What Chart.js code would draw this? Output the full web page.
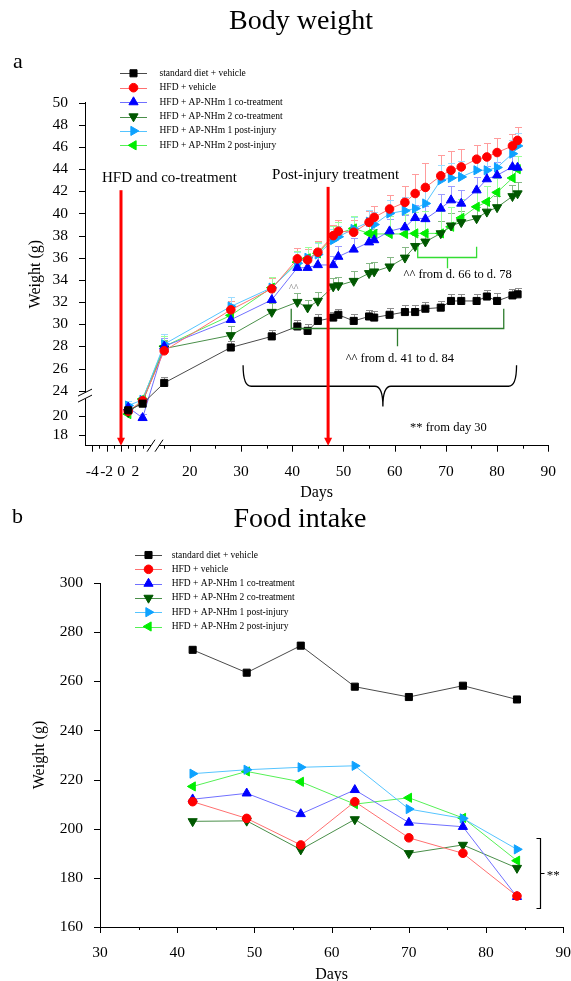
<!DOCTYPE html>
<html>
<head>
<meta charset="utf-8">
<title>Body weight and food intake</title>
<script src="https://cdn.jsdelivr.net/npm/chart.js@4.4.1/dist/chart.umd.min.js"></script>
<style>
  html, body { margin: 0; padding: 0; background: #fff; }
  #wrap { position: relative; width: 571px; height: 981px; overflow: hidden; }
  canvas { position: absolute; left: 0; }
  #weight { top: 0; }
  #food { top: 490px; }
</style>
</head>
<body>
<div id="wrap">
  <canvas id="weight" width="571" height="510"></canvas>
  <canvas id="food" width="571" height="491"></canvas>
</div>
<script>
// group names, same order in both panels
var groups = ['standard diet + vehicle', 'HFD + vehicle', 'HFD + AP-NHm 1 co-treatment',
  'HFD + AP-NHm 2 co-treatment', 'HFD + AP-NHm 1 post-injury', 'HFD + AP-NHm 2 post-injury'];

// panel a: body weight (g), mean and SEM per day
var weightDays = [1, 3, 15, 28, 36, 41, 43, 45, 48, 49, 52, 55, 56, 59, 62, 64, 66, 69, 71, 73, 76, 78, 80, 83, 84];
var wStd   = [20.6, 21.3, 24.7, 27.9, 28.9, 29.8, 29.4, 30.3, 30.6, 30.85, 30.3, 30.7, 30.6, 30.85, 31.1, 31.1, 31.4, 31.5, 32.1, 32.1, 32.1, 32.5, 32.1, 32.6, 32.7];
var wHfd   = [20.5, 21.6, 27.6, 31.3, 33.2, 35.9, 35.8, 36.5, 38.0, 38.4, 38.3, 39.2, 39.65, 40.4, 41.0, 41.8, 42.35, 43.4, 43.9, 44.2, 44.9, 45.1, 45.5, 46.1, 46.6];
var wCo1   = [20.9, 19.8, 28.0, 30.4, 32.2, 35.1, 35.1, 35.35, 35.35, 36.1, 36.75, 37.4, 37.6, 38.4, 38.75, 39.6, 39.5, 40.45, 41.2, 40.9, 42.1, 43.1, 43.45, 44.2, 44.15];
var wCo2   = [20.4, 21.5, 27.8, 29.0, 31.1, 32.0, 31.5, 32.1, 33.4, 33.5, 33.9, 34.6, 34.75, 35.2, 36.0, 37.05, 37.45, 38.2, 38.9, 39.2, 39.55, 40.15, 40.55, 41.55, 41.8];
var wPost1 = [21.1, 21.7, 28.2, 31.6, 33.3, 35.5, 36.0, 36.3, 37.6, 37.9, 38.6, 39.25, 39.0, 40.0, 40.25, 40.45, 40.9, 43.0, 43.2, 43.3, 43.9, 43.9, 44.15, 45.4, 46.1];
var wPost2 = [20.2, 21.8, 28.0, 30.8, 33.3, 35.6, 35.95, 36.4, 37.9, 38.2, 38.65, 38.2, 38.15, 38.15, 38.15, 38.2, 38.2, 38.2, 38.8, 39.6, 40.6, 41.05, 41.9, 43.2, 44.0];

var eStd   = [0.4, 0.4, 0.5, 0.6, 0.6, 0.6, 0.6, 0.6, 0.5, 0.5, 0.6, 0.6, 0.6, 0.6, 0.6, 0.6, 0.6, 0.6, 0.6, 0.6, 0.6, 0.6, 0.7, 0.6, 0.6];
var eHfd   = [0.5, 0.5, 0.9, 0.8, 1.0, 1.0, 1.0, 1.0, 1.0, 1.0, 1.1, 1.0, 1.0, 1.3, 1.5, 1.8, 2.2, 1.9, 1.7, 1.6, 1.3, 1.3, 1.3, 1.1, 1.2];
var eCo1   = [0.4, 0.4, 0.8, 0.9, 0.9, 0.9, 0.9, 0.9, 0.8, 1.0, 1.0, 1.0, 1.0, 1.1, 1.1, 1.2, 1.2, 1.3, 1.3, 1.2, 1.2, 1.2, 1.2, 1.0, 1.0];
var eCo2   = [0.4, 0.4, 0.8, 0.8, 0.8, 0.8, 0.7, 0.8, 0.8, 0.8, 0.9, 0.9, 0.9, 0.9, 1.0, 1.0, 1.0, 1.1, 1.1, 1.0, 1.0, 1.0, 1.0, 1.0, 1.0];
var ePost1 = [0.5, 0.5, 0.9, 0.9, 1.0, 1.0, 1.0, 1.0, 1.0, 1.0, 1.1, 1.1, 1.1, 1.2, 1.2, 1.3, 1.3, 1.4, 1.4, 1.4, 1.3, 1.3, 1.3, 1.2, 1.2];
var ePost2 = [0.5, 0.5, 0.9, 0.9, 1.0, 1.0, 1.0, 1.0, 1.0, 1.0, 1.1, 1.4, 1.5, 1.6, 1.8, 1.9, 2.0, 2.0, 1.8, 1.7, 1.5, 1.4, 1.3, 1.2, 1.2];

var weightTicksX = [-4, -2, 0, 2, 20, 30, 40, 50, 60, 70, 80, 90];
var weightMinorX = [-3, -1, 1, 3, 15, 25, 35, 45, 55, 65, 75, 85];
var weightTicksY = [18, 20, 24, 26, 28, 30, 32, 34, 36, 38, 40, 42, 44, 46, 48, 50];

// panel b: food intake (g), one value per week
var foodDays = [42, 49, 56, 63, 70, 77, 84];
var fStd   = [272.8, 263.5, 274.5, 257.8, 253.6, 258.2, 252.6];
var fHfd   = [211.0, 204.2, 193.4, 211.0, 196.3, 190.0, 172.6];
var fCo1   = [212.0, 214.4, 206.0, 215.8, 202.5, 200.8, 172.3];
var fCo2   = [203.0, 203.2, 191.5, 203.8, 190.0, 193.4, 184.0];
var fPost1 = [222.4, 224.0, 225.0, 225.6, 208.0, 204.2, 191.6];
var fPost2 = [217.2, 223.3, 219.1, 210.0, 212.6, 204.4, 187.0];

var foodTicksX = [30, 40, 50, 60, 70, 80, 90];
var foodMinorX = [35, 45, 55, 65, 75, 85];
var foodTicksY = [160, 180, 200, 220, 240, 260, 280, 300];

var FONT = "'Liberation Serif', 'Times New Roman', serif";
Chart.defaults.font.family = FONT;
Chart.defaults.color = '#000';

var seriesStyle = [
  { point: 'rect',     rot: 0,   r: 5,   fill: '#000000', line: '#4a4a4a', err: '#8c8c8c' },
  { point: 'circle',   rot: 0,   r: 4.3, fill: '#ff0000', line: '#ff7070', err: '#ff9c9c' },
  { point: 'triangle', rot: 0,   r: 5.3, fill: '#0000ff', line: '#7070ff', err: '#9c9cff' },
  { point: 'triangle', rot: 180, r: 5.3, fill: '#005800', line: '#4a8f4a', err: '#86b886' },
  { point: 'triangle', rot: 90,  r: 5.3, fill: '#0ea2ff', line: '#55c4ff', err: '#9ddcff' },
  { point: 'triangle', rot: 270, r: 5.3, fill: '#00ee00', line: '#55f055', err: '#9cff9c' }
];

// linear scale with piecewise mapping, used for the broken axes
class BrokenScale extends Chart.LinearScale {
  buildTicks() {
    var list = [];
    (this.options.majorTicks || []).forEach(function (v) { list.push({ value: v }); });
    (this.options.minorTicks || []).forEach(function (v) { list.push({ value: v, minor: true }); });
    list.sort(function (a, b) { return a.value - b.value; });
    return list;
  }
  toDecimal(v) {
    var k = this.options.knots;
    for (var i = 1; i < k.length; i++) {
      if (v <= k[i][0] || i === k.length - 1) {
        return k[i - 1][1] + (v - k[i - 1][0]) * (k[i][1] - k[i - 1][1]) / (k[i][0] - k[i - 1][0]);
      }
    }
  }
  fromDecimal(d) {
    var k = this.options.knots;
    for (var i = 1; i < k.length; i++) {
      if (d <= k[i][1] || i === k.length - 1) {
        return k[i - 1][0] + (d - k[i - 1][1]) * (k[i][0] - k[i - 1][0]) / (k[i][1] - k[i - 1][1]);
      }
    }
  }
  getPixelForValue(v) {
    if (v === null || v === undefined || isNaN(v)) return NaN;
    return this.getPixelForDecimal(this.toDecimal(v));
  }
  getValueForPixel(p) {
    return this.fromDecimal(this.getDecimalForPixel(p));
  }
}
BrokenScale.id = 'broken';
BrokenScale.defaults = {};
Chart.register(BrokenScale);

function points(days, values) {
  return days.map(function (d, i) { return { x: d, y: values[i] }; });
}

function makeSets(days, values, errors) {
  return values.map(function (vals, k) {
    var s = seriesStyle[k];
    return {
      label: groups[k],
      data: points(days, vals),
      errors: errors ? errors[k] : null,
      errorColor: s.err,
      borderColor: s.line,
      borderWidth: 1,
      pointStyle: s.point,
      pointRotation: s.rot,
      pointRadius: s.r,
      pointBackgroundColor: s.fill,
      pointBorderColor: s.fill,
      pointBorderWidth: 1,
      tension: 0,
      fill: false
    };
  });
}

function tickLabel(value, index, ticks) {
  return ticks[index].minor ? '' : String(value);
}

function axis(opts) {
  return Object.assign({
    type: 'broken',
    grid: { display: false },
    border: { display: true, color: '#000', width: 1 },
    ticks: { autoSkip: false, maxRotation: 0, padding: 9, font: { size: 15.5 }, callback: tickLabel }
  }, opts);
}

// fixed box sizes so the plot area sits where the figure has it
function fixBox(w, h) {
  return function (s) {
    if (w !== null) s.width = w;
    if (h !== null) s.height = h;
    s.paddingLeft = 0;
    s.paddingRight = 0;
    s.paddingTop = 0;
    s.paddingBottom = 0;
  };
}

// upward error bars, drawn under the markers
var errorBars = {
  id: 'errorBars',
  beforeDatasetsDraw: function (chart) {
    var ctx = chart.ctx, ys = chart.scales.y;
    chart.data.datasets.forEach(function (ds, i) {
      if (!ds.errors) return;
      var meta = chart.getDatasetMeta(i);
      ctx.save();
      ctx.strokeStyle = ds.errorColor;
      ctx.lineWidth = 1;
      meta.data.forEach(function (pt, j) {
        var top = Math.round(ys.getPixelForValue(ds.data[j].y + ds.errors[j])) + 0.5;
        var px = Math.round(pt.x) + 0.5;
        ctx.beginPath();
        ctx.moveTo(px, pt.y);
        ctx.lineTo(px, top);
        ctx.moveTo(px - 3.5, top);
        ctx.lineTo(px + 3.5, top);
        ctx.stroke();
      });
      ctx.restore();
    });
  }
};

// major and minor tick marks
var tickMarks = {
  id: 'tickMarks',
  afterDraw: function (chart) {
    var ctx = chart.ctx;
    ctx.save();
    ctx.strokeStyle = '#000';
    ctx.lineWidth = 1;
    ['x', 'y'].forEach(function (id) {
      var s = chart.scales[id];
      s.ticks.forEach(function (t) {
        var len = t.minor ? 3 : 6;
        var p = Math.round(s.getPixelForValue(t.value)) + 0.5;
        ctx.beginPath();
        if (id === 'x') { ctx.moveTo(p, s.top); ctx.lineTo(p, s.top + len); }
        else { ctx.moveTo(s.right, p); ctx.lineTo(s.right - len, p); }
        ctx.stroke();
      });
    });
    ctx.restore();
  }
};

// legend rows: line with the marker on it, then the name
var legendRows = {
  id: 'legendRows',
  afterDraw: function (chart, args, opts) {
    var ctx = chart.ctx;
    chart.data.datasets.forEach(function (ds, i) {
      var y = opts.y + i * opts.gap;
      ctx.save();
      ctx.strokeStyle = ds.borderColor;
      ctx.lineWidth = 1;
      ctx.beginPath();
      ctx.moveTo(opts.x, Math.round(y) + 0.5);
      ctx.lineTo(opts.x + opts.len, Math.round(y) + 0.5);
      ctx.stroke();
      ctx.fillStyle = ds.pointBackgroundColor;
      ctx.strokeStyle = ds.pointBorderColor;
      Chart.helpers.drawPoint(ctx, { pointStyle: ds.pointStyle, rotation: ds.pointRotation, radius: ds.pointRadius, borderWidth: 1 }, opts.x + opts.len / 2, y);
      ctx.fillStyle = '#000';
      ctx.font = opts.size + 'px ' + FONT;
      ctx.textBaseline = 'middle';
      ctx.textAlign = 'left';
      ctx.fillText(ds.label, opts.textX, y);
      ctx.restore();
    });
  }
};

// panel letter and title
var panelText = {
  id: 'panelText',
  afterDraw: function (chart, args, opts) {
    var ctx = chart.ctx;
    ctx.save();
    ctx.fillStyle = '#000';
    ctx.textBaseline = 'middle';
    ctx.textAlign = 'left';
    ctx.font = '22px ' + FONT;
    ctx.fillText(opts.letter, opts.letterX, opts.letterY);
    ctx.textAlign = 'center';
    ctx.font = '28px ' + FONT;
    ctx.fillText(opts.title, opts.titleX, opts.titleY);
    ctx.restore();
  }
};

function txt(ctx, s, x, y, size, color, align) {
  ctx.fillStyle = color || '#000';
  ctx.font = size + 'px ' + FONT;
  ctx.textAlign = align || 'center';
  ctx.textBaseline = 'middle';
  ctx.fillText(s, x, y);
}

function bracket(ctx, xs, ys, b) {
  var x1 = xs.getPixelForValue(b.from), x2 = xs.getPixelForValue(b.to);
  var yl = Math.round(ys.getPixelForValue(b.at)) + 0.5, ye = ys.getPixelForValue(b.ends);
  var xm = Math.round(xs.getPixelForValue(b.stem)) + 0.5, ym = ys.getPixelForValue(b.stemTo);
  ctx.strokeStyle = b.color;
  ctx.lineWidth = 1.3;
  ctx.beginPath();
  ctx.moveTo(x1, ye); ctx.lineTo(x1, yl); ctx.lineTo(x2, yl); ctx.lineTo(x2, ye);
  ctx.moveTo(xm, yl); ctx.lineTo(xm, ym);
  ctx.stroke();
}

// significance notes, arrows and axis breaks of panel a
var arrowDays = [0, 47];
var arrowTops = [42.1, 42.4];
var arrowText = ['HFD and co-treatment', 'Post-injury treatment'];
var weightNotes = {
  id: 'weightNotes',
  afterDatasetsDraw: function (chart) {
    var ctx = chart.ctx, xs = chart.scales.x, ys = chart.scales.y, a = chart.chartArea;
    ctx.save();

    bracket(ctx, xs, ys, { from: 64.5, to: 76, at: 36.1, ends: 37.0, stem: 70.3, stemTo: 35.05, color: '#33dd33' });
    txt(ctx, '^^ from d. 66 to d. 78', xs.getPixelForValue(72.3), ys.getPixelForValue(34.45), 12.5);

    bracket(ctx, xs, ys, { from: 39.8, to: 81.3, at: 29.7, ends: 31.4, stem: 60.5, stemTo: 28.0, color: '#2e7d2e' });
    txt(ctx, '^^ from d. 41 to d. 84', xs.getPixelForValue(61), ys.getPixelForValue(26.9), 12.5);

    txt(ctx, '^^', xs.getPixelForValue(40.3), ys.getPixelForValue(33.2), 10, '#777');

    // curly brace from day 30
    var bl = xs.getPixelForValue(30.4), br = xs.getPixelForValue(83.8), bm = xs.getPixelForValue(57.7);
    var bt = ys.getPixelForValue(26.3), bh = ys.getPixelForValue(24.4), bp = ys.getPixelForValue(21.0);
    ctx.strokeStyle = '#000';
    ctx.lineWidth = 1.3;
    ctx.beginPath();
    ctx.moveTo(bl, bt);
    ctx.quadraticCurveTo(bl, bh, bl + 8, bh);
    ctx.lineTo(bm - 8, bh);
    ctx.quadraticCurveTo(bm, bh, bm, bp);
    ctx.quadraticCurveTo(bm, bh, bm + 8, bh);
    ctx.lineTo(br - 8, bh);
    ctx.quadraticCurveTo(br, bh, br, bt);
    ctx.stroke();
    txt(ctx, '** from day 30', xs.getPixelForValue(70.5), ys.getPixelForValue(18.8), 12.5);

    // red arrows
    arrowDays.forEach(function (d, i) {
      var x = xs.getPixelForValue(d), top = ys.getPixelForValue(arrowTops[i]);
      ctx.strokeStyle = '#ff0000';
      ctx.fillStyle = '#ff0000';
      ctx.lineWidth = 3;
      ctx.beginPath();
      ctx.moveTo(x, top);
      ctx.lineTo(x, a.bottom - 6);
      ctx.stroke();
      ctx.beginPath();
      ctx.moveTo(x - 4, a.bottom - 8);
      ctx.lineTo(x + 4, a.bottom - 8);
      ctx.lineTo(x, a.bottom);
      ctx.closePath();
      ctx.fill();
    });
    txt(ctx, arrowText[0], xs.getPixelForValue(0) + 48.5, ys.getPixelForValue(43.2), 15);
    txt(ctx, arrowText[1], xs.getPixelForValue(47) + 7.5, ys.getPixelForValue(43.45), 15);
    ctx.restore();
  },
  afterDraw: function (chart) {
    var ctx = chart.ctx, xs = chart.scales.x, ys = chart.scales.y, a = chart.chartArea;
    ctx.save();
    ctx.fillStyle = '#fff';
    ctx.strokeStyle = '#000';
    ctx.lineWidth = 1;
    var yb = ys.getPixelForValue(23.2);
    ctx.fillRect(a.left - 3, yb - 3, 6, 6);
    [-3, 3].forEach(function (o) {
      ctx.beginPath();
      ctx.moveTo(a.left - 7, yb + o + 3.5);
      ctx.lineTo(a.left + 7, yb + o - 3.5);
      ctx.stroke();
    });
    var xb = xs.getPixelForValue(13.2);
    ctx.fillRect(xb - 4, a.bottom - 3, 8, 6);
    [-4, 4].forEach(function (o) {
      ctx.beginPath();
      ctx.moveTo(xb + o - 4, a.bottom + 6);
      ctx.lineTo(xb + o + 4, a.bottom - 6);
      ctx.stroke();
    });
    ctx.restore();
  }
};

// significance bracket of panel b
var foodNotes = {
  id: 'foodNotes',
  afterDatasetsDraw: function (chart) {
    var ctx = chart.ctx, xs = chart.scales.x, ys = chart.scales.y;
    var x = Math.round(xs.getPixelForValue(87)) + 0.5;
    var t = Math.round(ys.getPixelForValue(196.2)) + 0.5, b = Math.round(ys.getPixelForValue(167.7)) + 0.5, m = Math.round(ys.getPixelForValue(182)) + 0.5;
    ctx.save();
    ctx.strokeStyle = '#000';
    ctx.lineWidth = 1.2;
    ctx.beginPath();
    ctx.moveTo(x - 4, t); ctx.lineTo(x, t); ctx.lineTo(x, b); ctx.lineTo(x - 4, b);
    ctx.moveTo(x, m); ctx.lineTo(x + 4, m);
    ctx.stroke();
    txt(ctx, '**', xs.getPixelForValue(88.7), ys.getPixelForValue(181), 13);
    ctx.restore();
  }
};

new Chart(document.getElementById('weight'), {
  type: 'line',
  data: { datasets: makeSets(weightDays, [wStd, wHfd, wCo1, wCo2, wPost1, wPost2], [eStd, eHfd, eCo1, eCo2, ePost1, ePost2]) },
  options: {
    responsive: false,
    animation: false,
    devicePixelRatio: 1,
    layout: { padding: { top: 102.7, right: 22.7, left: 0, bottom: 0 } },
    plugins: {
      legend: { display: false },
      tooltip: { enabled: false },
      legendRows: { x: 120, y: 73.3, gap: 14.4, len: 27, textX: 159.5, size: 9.5 },
      panelText: { letter: 'a', letterX: 13, letterY: 62, title: 'Body weight', titleX: 301, titleY: 22 }
    },
    scales: {
      x: axis({
        min: -5, max: 90,
        knots: [[-5, 0], [3.5, 0.1321], [13, 0.1489], [90, 1]],
        majorTicks: weightTicksX, minorTicks: weightMinorX,
        title: { display: true, text: 'Days', font: { size: 16 }, padding: { top: 0, bottom: 7.4 } },
        afterFit: fixBox(null, 64.3)
      }),
      y: axis({
        min: 16.87, max: 50,
        knots: [[16.87, 0], [22, 0.142], [23.6, 0.1475], [50, 1]],
        majorTicks: weightTicksY,
        title: { display: true, text: 'Weight (g)', font: { size: 16 }, padding: { top: 26, bottom: 0 } },
        afterFit: fixBox(85, null)
      })
    }
  },
  plugins: [errorBars, weightNotes, tickMarks, legendRows, panelText]
});

new Chart(document.getElementById('food'), {
  type: 'line',
  data: { datasets: makeSets(foodDays, [fStd, fHfd, fCo1, fCo2, fPost1, fPost2], null) },
  options: {
    responsive: false,
    animation: false,
    devicePixelRatio: 1,
    layout: { padding: { top: 93, right: 7.7, left: 0, bottom: 0 } },
    plugins: {
      legend: { display: false },
      tooltip: { enabled: false },
      legendRows: { x: 135, y: 65, gap: 14.3, len: 27, textX: 171.7, size: 9.5 },
      panelText: { letter: 'b', letterX: 12, letterY: 27, title: 'Food intake', titleX: 300, titleY: 30 }
    },
    scales: {
      x: axis({
        min: 30, max: 90,
        knots: [[30, 0], [90, 1]],
        majorTicks: foodTicksX, minorTicks: foodMinorX,
        title: { display: true, text: 'Days', font: { size: 16 }, padding: { top: 0, bottom: -3.6 } },
        afterFit: fixBox(null, 54)
      }),
      y: axis({
        min: 160, max: 300,
        knots: [[160, 0], [300, 1]],
        majorTicks: foodTicksY,
        title: { display: true, text: 'Weight (g)', font: { size: 16 }, padding: { top: 30, bottom: 0 } },
        afterFit: fixBox(100, null)
      })
    }
  },
  plugins: [foodNotes, tickMarks, legendRows, panelText]
});
</script>
</body>
</html>
